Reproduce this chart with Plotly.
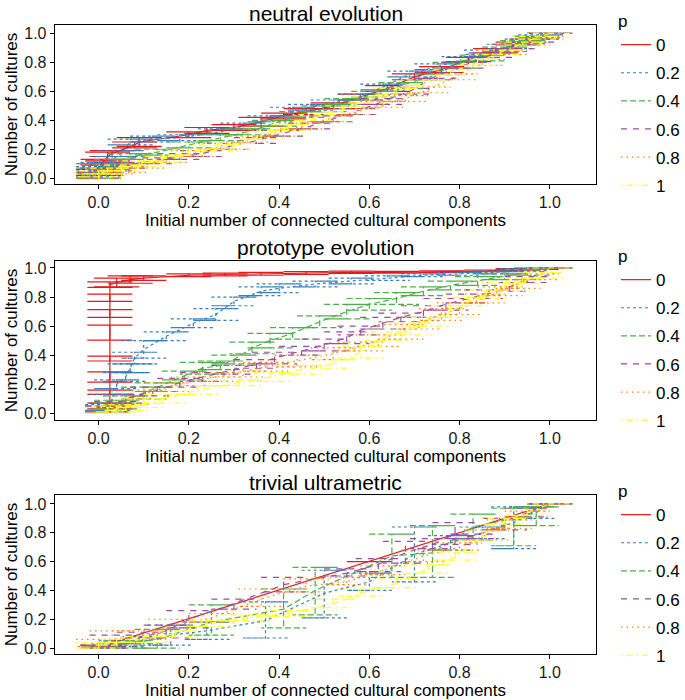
import plotly.graph_objects as go

# ---------------- data ----------------
p_labels = ["0", "0.2", "0.4", "0.6", "0.8", "1"]
panel_titles = ["neutral evolution", "prototype evolution", "trivial ultrametric"]
x_ticks = [0.0, 0.2, 0.4, 0.6, 0.8, 1.0]
x_tick_text = ["0.0", "0.2", "0.4", "0.6", "0.8", "1.0"]
y_ticks = [0.0, 0.2, 0.4, 0.6, 0.8, 1.0]
y_tick_text = ["0.0", "0.2", "0.4", "0.6", "0.8", "1.0"]
x_title = "Initial number of connected cultural components"
y_title = "Number of cultures"

# neutral evolution: x, mean y, symmetric error
neutral_x = [
    [0.00, 0.00, 0.01, 0.02, 0.03, 0.08, 0.09, 0.20, 0.24, 0.30, 0.36, 0.41, 0.46, 0.52, 0.58, 0.64, 0.70, 0.76, 0.82, 0.88, 0.93, 0.97, 1.00],
    [0.00, 0.00, 0.01, 0.03, 0.05, 0.07, 0.12, 0.18, 0.27, 0.32, 0.38, 0.43, 0.47, 0.52, 0.58, 0.63, 0.69, 0.75, 0.81, 0.86, 0.91, 0.95, 0.98, 1.00],
    [0.00, 0.00, 0.02, 0.04, 0.07, 0.13, 0.20, 0.27, 0.33, 0.39, 0.45, 0.50, 0.55, 0.61, 0.67, 0.73, 0.79, 0.85, 0.90, 0.94, 0.97, 1.00],
    [0.00, 0.01, 0.03, 0.06, 0.12, 0.18, 0.23, 0.29, 0.35, 0.41, 0.47, 0.52, 0.57, 0.63, 0.69, 0.75, 0.81, 0.87, 0.92, 0.96, 1.00],
    [0.00, 0.01, 0.03, 0.06, 0.10, 0.15, 0.21, 0.27, 0.33, 0.39, 0.45, 0.51, 0.57, 0.63, 0.68, 0.73, 0.79, 0.85, 0.90, 0.95, 0.98, 1.00],
    [0.00, 0.00, 0.02, 0.05, 0.09, 0.14, 0.20, 0.26, 0.30, 0.36, 0.42, 0.48, 0.54, 0.60, 0.66, 0.72, 0.78, 0.84, 0.89, 0.94, 0.97, 1.00],
]
neutral_y = [
    [0.04, 0.08, 0.11, 0.15, 0.17, 0.23, 0.25, 0.30, 0.33, 0.35, 0.39, 0.43, 0.46, 0.50, 0.56, 0.62, 0.70, 0.75, 0.82, 0.88, 0.93, 0.97, 1.00],
    [0.03, 0.06, 0.09, 0.13, 0.17, 0.25, 0.27, 0.28, 0.32, 0.36, 0.41, 0.46, 0.49, 0.52, 0.56, 0.63, 0.72, 0.77, 0.82, 0.87, 0.91, 0.95, 0.98, 1.00],
    [0.02, 0.05, 0.08, 0.11, 0.15, 0.18, 0.23, 0.28, 0.32, 0.38, 0.44, 0.48, 0.53, 0.58, 0.64, 0.70, 0.78, 0.83, 0.89, 0.94, 0.97, 1.00],
    [0.02, 0.05, 0.07, 0.09, 0.12, 0.15, 0.17, 0.22, 0.26, 0.31, 0.36, 0.41, 0.46, 0.53, 0.60, 0.71, 0.78, 0.85, 0.91, 0.95, 1.00],
    [0.02, 0.04, 0.05, 0.06, 0.09, 0.13, 0.17, 0.22, 0.27, 0.31, 0.36, 0.41, 0.46, 0.51, 0.55, 0.61, 0.70, 0.80, 0.87, 0.93, 0.97, 1.00],
    [0.01, 0.03, 0.05, 0.07, 0.10, 0.13, 0.18, 0.21, 0.22, 0.29, 0.35, 0.42, 0.48, 0.54, 0.60, 0.66, 0.73, 0.80, 0.87, 0.93, 0.97, 1.00],
]
neutral_err = [
    [0.02, 0.02, 0.02, 0.03, 0.02, 0.02, 0.03, 0.02, 0.02, 0.02, 0.03, 0.02, 0.02, 0.02, 0.02, 0.02, 0.02, 0.02, 0.015, 0.015, 0.01, 0.01, 0.0],
    [0.02, 0.02, 0.02, 0.02, 0.02, 0.02, 0.02, 0.02, 0.02, 0.02, 0.02, 0.03, 0.02, 0.02, 0.02, 0.02, 0.02, 0.02, 0.02, 0.015, 0.015, 0.01, 0.01, 0.0],
    [0.02, 0.02, 0.02, 0.02, 0.02, 0.02, 0.02, 0.02, 0.02, 0.02, 0.02, 0.02, 0.02, 0.02, 0.02, 0.02, 0.02, 0.02, 0.015, 0.01, 0.01, 0.0],
    [0.02, 0.02, 0.02, 0.02, 0.02, 0.02, 0.02, 0.02, 0.02, 0.02, 0.02, 0.02, 0.02, 0.02, 0.02, 0.02, 0.02, 0.015, 0.015, 0.01, 0.0],
    [0.02, 0.02, 0.02, 0.02, 0.02, 0.02, 0.02, 0.02, 0.02, 0.02, 0.02, 0.02, 0.02, 0.02, 0.02, 0.02, 0.02, 0.02, 0.015, 0.01, 0.01, 0.0],
    [0.02, 0.02, 0.02, 0.02, 0.02, 0.02, 0.02, 0.02, 0.02, 0.02, 0.02, 0.02, 0.02, 0.02, 0.02, 0.02, 0.02, 0.02, 0.015, 0.01, 0.01, 0.0],
]

# prototype evolution
proto_x = [
    [0.025, 0.025, 0.025, 0.025, 0.025, 0.025, 0.025, 0.025, 0.04, 0.07, 0.10, 0.20, 0.28, 0.36, 0.46, 0.56, 0.66, 0.76, 0.86, 0.93, 0.97, 1.00],
    [0.02, 0.03, 0.04, 0.06, 0.07, 0.08, 0.10, 0.15, 0.21, 0.26, 0.30, 0.36, 0.40, 0.48, 0.56, 0.64, 0.72, 0.80, 0.88, 0.94, 1.00],
    [0.02, 0.04, 0.06, 0.10, 0.13, 0.19, 0.23, 0.27, 0.30, 0.34, 0.38, 0.43, 0.49, 0.55, 0.60, 0.66, 0.72, 0.78, 0.84, 0.90, 0.95, 1.00],
    [0.02, 0.04, 0.06, 0.12, 0.18, 0.23, 0.30, 0.35, 0.39, 0.45, 0.50, 0.55, 0.58, 0.63, 0.67, 0.72, 0.77, 0.82, 0.86, 0.91, 0.95, 1.00],
    [0.02, 0.04, 0.06, 0.10, 0.15, 0.21, 0.26, 0.32, 0.37, 0.44, 0.52, 0.58, 0.62, 0.67, 0.71, 0.76, 0.80, 0.85, 0.89, 0.93, 0.97, 1.00],
    [0.02, 0.04, 0.06, 0.10, 0.15, 0.22, 0.31, 0.38, 0.45, 0.52, 0.58, 0.64, 0.69, 0.73, 0.78, 0.82, 0.86, 0.90, 0.94, 0.98, 1.00],
]
proto_y = [
    [0.05, 0.145, 0.25, 0.377, 0.555, 0.687, 0.795, 0.885, 0.90, 0.92, 0.93, 0.95, 0.955, 0.96, 0.965, 0.97, 0.97, 0.975, 0.98, 0.99, 0.995, 1.00],
    [0.04, 0.10, 0.20, 0.25, 0.31, 0.38, 0.44, 0.53, 0.62, 0.68, 0.77, 0.84, 0.86, 0.89, 0.91, 0.93, 0.95, 0.96, 0.97, 0.985, 1.00],
    [0.03, 0.06, 0.09, 0.14, 0.18, 0.26, 0.31, 0.33, 0.37, 0.45, 0.50, 0.55, 0.63, 0.70, 0.75, 0.79, 0.84, 0.88, 0.91, 0.94, 0.97, 1.00],
    [0.03, 0.06, 0.10, 0.15, 0.21, 0.25, 0.30, 0.34, 0.38, 0.43, 0.47, 0.52, 0.57, 0.62, 0.66, 0.70, 0.75, 0.79, 0.82, 0.87, 0.92, 1.00],
    [0.03, 0.05, 0.09, 0.13, 0.18, 0.22, 0.25, 0.29, 0.32, 0.36, 0.41, 0.46, 0.50, 0.56, 0.62, 0.68, 0.72, 0.79, 0.84, 0.89, 0.94, 1.00],
    [0.02, 0.03, 0.04, 0.07, 0.10, 0.16, 0.21, 0.25, 0.30, 0.34, 0.42, 0.53, 0.58, 0.63, 0.70, 0.77, 0.82, 0.87, 0.91, 0.95, 1.00],
]
proto_err = [
    [0.02, 0.015, 0.035, 0.017, 0.052, 0.027, 0.025, 0.019, 0.03, 0.025, 0.015, 0.01, 0.01, 0.01, 0.01, 0.008, 0.006, 0.006, 0.006, 0.005, 0.005, 0.0],
    [0.02, 0.03, 0.03, 0.03, 0.03, 0.04, 0.06, 0.03, 0.03, 0.04, 0.03, 0.03, 0.03, 0.02, 0.02, 0.015, 0.01, 0.01, 0.01, 0.01, 0.0],
    [0.02, 0.03, 0.03, 0.04, 0.03, 0.03, 0.04, 0.03, 0.03, 0.04, 0.05, 0.04, 0.04, 0.05, 0.04, 0.04, 0.03, 0.03, 0.03, 0.02, 0.02, 0.0],
    [0.02, 0.02, 0.03, 0.03, 0.03, 0.03, 0.03, 0.03, 0.04, 0.03, 0.04, 0.04, 0.03, 0.04, 0.03, 0.04, 0.04, 0.03, 0.03, 0.03, 0.02, 0.0],
    [0.02, 0.02, 0.03, 0.03, 0.03, 0.03, 0.03, 0.04, 0.03, 0.04, 0.04, 0.03, 0.04, 0.05, 0.04, 0.04, 0.04, 0.03, 0.03, 0.03, 0.02, 0.0],
    [0.02, 0.02, 0.02, 0.03, 0.03, 0.03, 0.02, 0.03, 0.03, 0.03, 0.04, 0.03, 0.04, 0.03, 0.04, 0.03, 0.03, 0.03, 0.02, 0.02, 0.0],
]

# trivial ultrametric: x, mean y, lower and upper bounds
trivial_x = [
    [0.01, 0.60, 1.00],
    [0.01, 0.05, 0.10, 0.16, 0.24, 0.37, 0.50, 0.60, 0.70, 0.78, 0.85, 0.92, 0.96, 1.00],
    [0.01, 0.06, 0.13, 0.25, 0.41, 0.48, 0.65, 0.74, 0.83, 0.92, 0.97, 1.00],
    [0.01, 0.03, 0.09, 0.15, 0.20, 0.30, 0.41, 0.55, 0.62, 0.68, 0.74, 0.79, 0.83, 0.90, 0.95, 1.00],
    [0.00, 0.03, 0.10, 0.16, 0.25, 0.36, 0.46, 0.55, 0.63, 0.72, 0.80, 0.86, 0.91, 0.95, 1.00],
    [0.00, 0.04, 0.10, 0.17, 0.24, 0.33, 0.42, 0.52, 0.58, 0.66, 0.73, 0.79, 0.85, 0.90, 0.95, 1.00],
]
trivial_y = [
    [0.015, 0.60, 1.00],
    [0.01, 0.03, 0.05, 0.09, 0.12, 0.19, 0.38, 0.46, 0.65, 0.73, 0.80, 0.87, 0.94, 1.00],
    [0.01, 0.03, 0.06, 0.18, 0.27, 0.40, 0.64, 0.66, 0.84, 0.90, 0.94, 1.00],
    [0.01, 0.05, 0.07, 0.12, 0.20, 0.31, 0.44, 0.52, 0.58, 0.66, 0.72, 0.79, 0.77, 0.86, 0.94, 1.00],
    [0.03, 0.06, 0.09, 0.15, 0.21, 0.34, 0.43, 0.46, 0.54, 0.64, 0.70, 0.79, 0.86, 0.93, 1.00],
    [0.02, 0.04, 0.06, 0.10, 0.17, 0.21, 0.24, 0.31, 0.38, 0.45, 0.55, 0.63, 0.78, 0.88, 0.94, 1.00],
]
trivial_lo = [
    [0.015, 0.60, 1.00],
    [0.00, 0.01, 0.02, 0.02, 0.06, 0.07, 0.21, 0.40, 0.46, 0.68, 0.76, 0.69, 0.90, 1.00],
    [0.00, 0.00, 0.00, 0.09, 0.14, 0.23, 0.49, 0.49, 0.75, 0.71, 0.85, 1.00],
    [0.00, 0.01, 0.03, 0.07, 0.14, 0.27, 0.39, 0.50, 0.53, 0.59, 0.69, 0.72, 0.76, 0.82, 0.91, 1.00],
    [0.01, 0.03, 0.06, 0.10, 0.18, 0.29, 0.39, 0.44, 0.51, 0.60, 0.68, 0.75, 0.83, 0.91, 1.00],
    [0.00, 0.02, 0.04, 0.08, 0.15, 0.19, 0.22, 0.28, 0.36, 0.42, 0.52, 0.61, 0.75, 0.86, 0.92, 1.00],
]
trivial_hi = [
    [0.015, 0.60, 1.00],
    [0.02, 0.05, 0.08, 0.16, 0.18, 0.32, 0.54, 0.52, 0.84, 0.78, 0.84, 0.98, 0.98, 1.00],
    [0.02, 0.05, 0.13, 0.30, 0.41, 0.56, 0.79, 0.85, 0.93, 0.97, 0.98, 1.00],
    [0.02, 0.09, 0.11, 0.16, 0.26, 0.34, 0.49, 0.55, 0.62, 0.74, 0.76, 0.87, 0.79, 0.90, 0.97, 1.00],
    [0.06, 0.12, 0.12, 0.20, 0.24, 0.41, 0.48, 0.49, 0.57, 0.68, 0.73, 0.82, 0.89, 0.95, 1.00],
    [0.04, 0.06, 0.08, 0.12, 0.19, 0.23, 0.26, 0.34, 0.41, 0.48, 0.58, 0.66, 0.81, 0.90, 0.96, 1.00],
]

# ---------------- style ----------------
colors = ["#E41A1C", "#377EB8", "#4DAF4A", "#984EA3", "#FF7F00", "#FFFF33"]
dashes = ["solid", "3px,3px", "6px,3px", "6px,6px", "1.5px,4px", "1.5px,4px,6px,4px"]
CAP = 0.05          # half width of the error-bar caps, in x data units
LW = 1.2
FONT = "Liberation Sans, Arial, Helvetica, sans-serif"

x_domain = [55 / 685, 598 / 685]
y_domains = [[1 - 184 / 700, 1 - 25 / 700], [1 - 420 / 700, 1 - 261 / 700], [1 - 654 / 700, 1 - 495 / 700]]
y_ranges = [[-0.04, 1.058], [-0.046, 1.048], [-0.041, 1.062]]
title_y = [1 - 13 / 700, 1 - 247 / 700, 1 - 482 / 700]
legend_top = [1 - 5 / 700, 1 - 240 / 700, 1 - 475 / 700]

fig = go.Figure()


def add_series(panel, k, xs, ys, lows, highs):
    sfx = "" if panel == 0 else str(panel + 1)
    leg = "legend" if panel == 0 else "legend" + str(panel + 1)
    ex, ey = [], []
    for x, lo, hi in zip(xs, lows, highs):
        ex += [x - CAP, x + CAP, x, x, x - CAP, x + CAP, None]
        ey += [hi, hi, hi, lo, lo, lo, None]
    grp = "g%d_%d" % (panel, k)
    fig.add_trace(go.Scatter(
        x=ex, y=ey, mode="lines", xaxis="x" + sfx, yaxis="y" + sfx,
        line=dict(color=colors[k], dash=dashes[k], width=LW),
        showlegend=False, legend=leg, legendgroup=grp, hoverinfo="skip"))
    fig.add_trace(go.Scatter(
        x=xs, y=ys, mode="lines", xaxis="x" + sfx, yaxis="y" + sfx,
        line=dict(color=colors[k], dash=dashes[k], width=LW),
        name=p_labels[k], showlegend=True, legend=leg, legendgroup=grp))


for k in range(6):
    lo = [y - e for y, e in zip(neutral_y[k], neutral_err[k])]
    hi = [y + e for y, e in zip(neutral_y[k], neutral_err[k])]
    add_series(0, k, neutral_x[k], neutral_y[k], lo, hi)
for k in range(6):
    lo = [y - e for y, e in zip(proto_y[k], proto_err[k])]
    hi = [y + e for y, e in zip(proto_y[k], proto_err[k])]
    add_series(1, k, proto_x[k], proto_y[k], lo, hi)
for k in range(6):
    add_series(2, k, trivial_x[k], trivial_y[k], trivial_lo[k], trivial_hi[k])

layout = dict(
    width=685, height=700,
    margin=dict(l=0, r=0, t=0, b=0),
    paper_bgcolor="white", plot_bgcolor="white",
    font=dict(family=FONT, color="black", size=16),
    annotations=[],
)
for i in range(3):
    sfx = "" if i == 0 else str(i + 1)
    layout["xaxis" + sfx] = dict(
        domain=x_domain, anchor="y" + sfx, range=[-0.097, 1.103],
        tickvals=x_ticks, ticktext=x_tick_text, ticks="outside", ticklen=4,
        tickcolor="black", tickwidth=1, showline=True, mirror=True,
        linecolor="black", linewidth=1.3, showgrid=False, zeroline=False,
        automargin=False,
        tickfont=dict(size=16, color="#1a1a1a"),
        title=dict(text=x_title, font=dict(size=17), standoff=1))
    layout["yaxis" + sfx] = dict(
        domain=y_domains[i], anchor="x" + sfx, range=y_ranges[i],
        tickvals=y_ticks, ticktext=y_tick_text, ticks="outside", ticklen=4,
        tickcolor="black", tickwidth=1, showline=True, mirror=True,
        linecolor="black", linewidth=1.3, showgrid=False, zeroline=False,
        automargin=False,
        tickfont=dict(size=16, color="#1a1a1a"),
        title=dict(text=y_title, font=dict(size=17), standoff=2))
    leg = "legend" if i == 0 else "legend" + str(i + 1)
    layout[leg] = dict(
        x=618 / 685, xanchor="left", y=legend_top[i], yanchor="top",
        title=dict(text="p", font=dict(size=17)), font=dict(size=17),
        bgcolor="rgba(0,0,0,0)", tracegroupgap=3, itemwidth=30)
    layout["annotations"].append(dict(
        text=panel_titles[i], xref="paper", yref="paper",
        x=(x_domain[0] + x_domain[1]) / 2, y=title_y[i],
        xanchor="center", yanchor="middle", showarrow=False,
        font=dict(size=21)))

fig.update_layout(**layout)
fig.write_html("out.html", config={"displayModeBar": False},
               post_script="document.body.style.margin='0px';")
